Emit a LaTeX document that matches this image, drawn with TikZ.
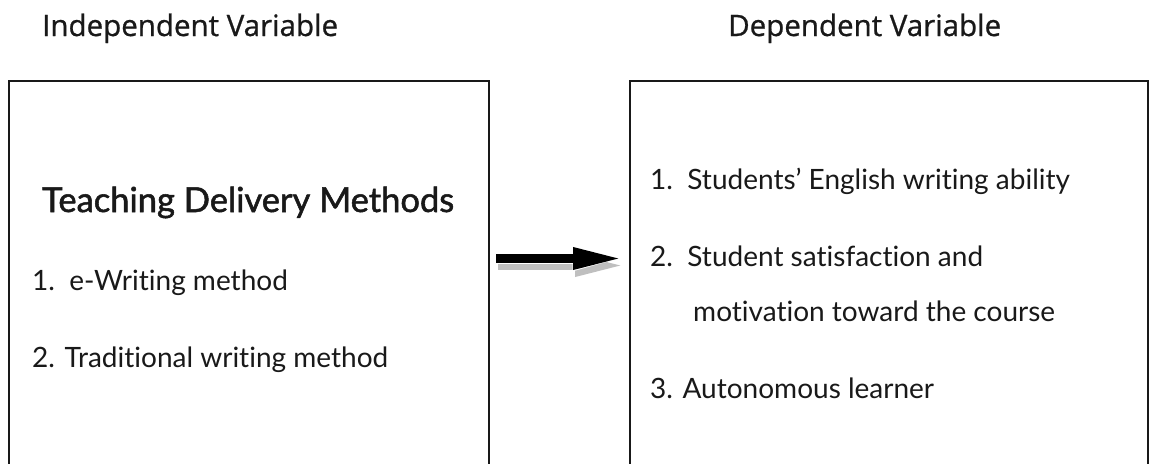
\documentclass[tikz,border=0pt]{standalone}
\usepackage{fontspec}
\setmainfont{Lato}[RawFeature=-liga]
\newfontfamily\headfont{Open Sans}[FakeBold=0.8]
\newfontfamily\titlefont{Lato}[FakeBold=1.5,RawFeature=-liga]
\usetikzlibrary{arrows.meta}
\tikzset{
  x=1pt, y=-1pt,
  vbox/.style={draw=black!90, line width=1.3pt},
  headtxt/.style={anchor=base west, inner sep=0pt, font=\headfont\fontsize{29.5}{34}\selectfont, text=black!90},
  titletxt/.style={anchor=base west, inner sep=0pt, font=\titlefont\fontsize{34.5}{40}\selectfont, text=black!90},
  itemtxt/.style={anchor=base west, inner sep=0pt, font=\fontsize{28}{34}\selectfont, text=black!90},
  arrowshaft/.style={line width=9pt, -{Triangle[length=50pt,width=20pt]}},
}
\begin{document}
\begin{tikzpicture}
\useasboundingbox (0,0) rectangle (1150,463);
\clip (0,0) rectangle (1150,463);
\fill[white] (0,0) rectangle (1150,463);

% boxes (cut off at the bottom)
\draw[vbox] (9,81) coordinate (lbtl) rectangle (489,500) coordinate (lbbr);
\draw[vbox] (630,81) coordinate (rbtl) rectangle (1148,500) coordinate (rbbr);

% headings
\node[headtxt] (ind) at (42,36) {Independent Variable};
\node[headtxt] (dep) at (728,36) {Dependent Variable};

% left box text
\node[titletxt] (tdm) at (42,212) {Teaching Delivery Methods};
\node[itemtxt] (l1) at (32,290) {1.\ \ e-Writing method};
\node[itemtxt] (l2) at (32,367) {2. Traditional writing method};

% right box text
\node[itemtxt] (r1) at (650,189) {1.\ \ Students’ English writing ability};
\node[itemtxt] (r2) at (650,266) {2.\ \ Student satisfaction and};
\node[itemtxt] (r2b) at (693,321) {motivation toward the course};
\node[itemtxt] (r3) at (650,398) {3. Autonomous learner};

% arrow with shadow
\coordinate (a1) at (496,258.5);
\coordinate (a2) at (623,258.5);
\draw[arrowshaft, draw=black!25, fill=black!25] ([shift={(2,7)}]a1) -- ([shift={(2,7)}]a2);
\draw[line width=10.5pt, white, -{Triangle[length=52pt,width=22pt]}, shorten <=-0.5pt] (a1) -- ([xshift=1.5pt]a2);
\draw[arrowshaft, draw=black, fill=black] (a1) -- (a2);
\end{tikzpicture}
\end{document}
